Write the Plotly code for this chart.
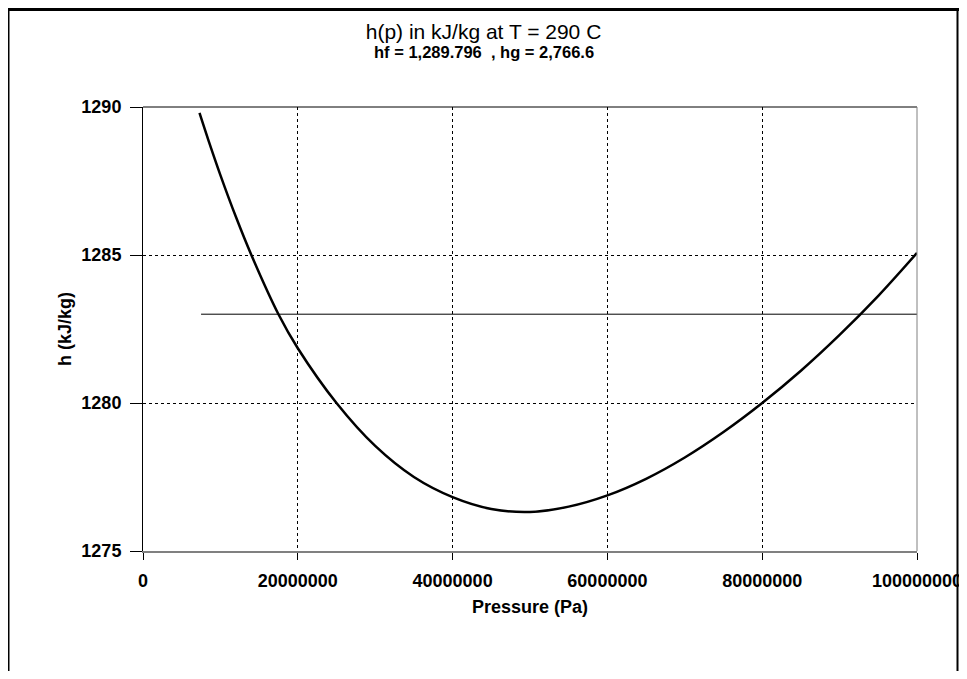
import plotly.graph_objects as go

FONT = "Liberation Sans, Arial, sans-serif"

# enthalpy curve (pressure in Pa, h in kJ/kg)
pressure = [7.3e6, 8.5e6, 10e6, 12e6, 14e6, 17.5e6, 20e6, 25e6, 30e6, 35e6, 40e6,
            45e6, 50e6, 55e6, 60e6, 65e6, 70e6, 75e6, 80e6, 85e6, 90e6, 95e6, 100e6]
enthalpy = [1289.80, 1288.84, 1287.70, 1286.29, 1285.0, 1283.0, 1281.85, 1280.0,
            1278.55, 1277.5, 1276.82, 1276.42, 1276.32, 1276.5, 1276.88, 1277.44,
            1278.16, 1279.02, 1280.0, 1281.09, 1282.3, 1283.62, 1285.07]

# saturation reference line
ref_p = [7.5e6, 100e6]
ref_h = [1283.0, 1283.0]

x_ticks = [0, 20000000, 40000000, 60000000, 80000000, 100000000]
x_labels = ["0", "20000000", "40000000", "60000000", "80000000", "100000000"]
y_ticks = [1275, 1280, 1285, 1290]

# the page puts the figure 8px in from the top-left corner (body margin)
OFF = 8
W, H = 967 - OFF, 679 - 2 * OFF
L, R, T, B = 143, 917, 107, 551   # plot area in page pixels


def px(x):
    return (x - L) / (R - L)


def py(y):
    return (B - y) / (B - T)


fig = go.Figure()
fig.add_scatter(x=pressure, y=enthalpy, mode="lines", line_shape="spline",
                line=dict(color="black", width=2.5), showlegend=False)
fig.add_scatter(x=ref_p, y=ref_h, mode="lines",
                line=dict(color="black", width=1), showlegend=False)

tick_font = dict(family=FONT, size=18, color="black", weight="bold")

fig.update_xaxes(range=[0, 100e6], tickvals=x_ticks, ticktext=x_labels,
                 showgrid=True, gridcolor="black", griddash="dot", gridwidth=1,
                 showline=True, linecolor="#808080", linewidth=2,
                 ticks="outside", ticklen=7, tickcolor="black",
                 tickfont=tick_font, ticklabelstandoff=5, zeroline=False,
                 automargin=False,
                 title=dict(text="Pressure (Pa)", font=tick_font, standoff=11))
fig.update_yaxes(range=[1275, 1290], tickvals=y_ticks,
                 showgrid=True, gridcolor="black", griddash="dot", gridwidth=1,
                 showline=True, linecolor="black", linewidth=1,
                 ticks="outside", ticklen=12, tickcolor="black",
                 tickfont=tick_font, ticklabelstandoff=5, zeroline=False,
                 automargin=False,
                 title=dict(text="h (kJ/kg)", font=tick_font, standoff=5))

fig.layout.update(
    width=W, height=H,
    margin=dict(l=L - OFF, r=967 - R, t=T - OFF, b=H + OFF - B, autoexpand=False),
    plot_bgcolor="white", paper_bgcolor="white",
    title=dict(text="h(p) in kJ/kg at T = 290 C", x=(483.5 - OFF) / W, xanchor="center",
               y=1 - (32 - OFF) / H, yanchor="middle",
               font=dict(family=FONT, size=21, color="black")),
)
fig.add_annotation(text="hf = 1,289.796  , hg = 2,766.6", xref="paper", yref="paper",
                   x=px(483.5), y=py(52), showarrow=False,
                   xanchor="center", yanchor="middle",
                   font=dict(family=FONT, size=16.5, color="black", weight="bold"))

# plot frame (top black, right gray) and the outer page border
fig.add_shape(type="line", xref="paper", yref="paper", x0=0, x1=1, y0=1, y1=1,
              line=dict(color="black", width=1))
fig.add_shape(type="line", xref="paper", yref="paper", x0=1, x1=1, y0=0, y1=1,
              line=dict(color="#808080", width=1))
fig.add_shape(type="line", xref="paper", yref="paper",
              x0=px(6), x1=px(965), y0=py(9.5), y1=py(9.5),
              line=dict(color="black", width=3))
fig.add_shape(type="line", xref="paper", yref="paper",
              x0=px(8.5), x1=px(8.5), y0=py(8), y1=py(700),
              line=dict(color="black", width=2))
fig.add_shape(type="line", xref="paper", yref="paper",
              x0=px(957.5), x1=px(957.5), y0=py(8), y1=py(700),
              line=dict(color="black", width=2))

fig.write_html("out.html")
